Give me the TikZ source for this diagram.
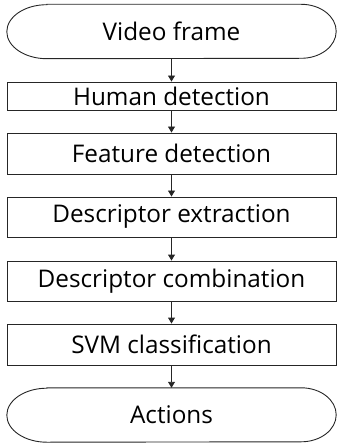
\documentclass[tikz,border=0pt]{standalone}
\usepackage{fontspec}
\setmainfont{Open Sans}
\usetikzlibrary{arrows.meta}
\tikzset{
  outline/.style={draw=black!85, line width=0.9pt},
  box/.style={outline, rectangle, minimum width=329pt, inner sep=0pt, font=\fontsize{24.3}{27}\selectfont},
  term/.style={rectangle, minimum width=329pt, minimum height=55pt, inner sep=0pt, font=\fontsize{24.3}{27}\selectfont},
  conn/.style={outline, -{Triangle[width=7pt,length=6pt]}}
}
\newcommand{\termoutline}[1]{%
  \draw[outline] ([xshift=40pt]#1.north west) -- ([xshift=-35pt]#1.north east)
    arc[start angle=90, end angle=-90, x radius=35pt, y radius=27pt]
    -- ([xshift=40pt]#1.south west)
    arc[start angle=270, end angle=90, x radius=40pt, y radius=27pt] -- cycle;}
\begin{document}
\begin{tikzpicture}[x=1pt,y=-1pt]
\useasboundingbox (0,0) rectangle (337,443);
\node[term, minimum height=54pt] (video) at (171.5,31.5) {Video frame};
\node[box, minimum height=28pt] (human) at (171.5,96) {Human detection};
\node[box, minimum height=41pt] (feature) at (171.5,153.5) {Feature detection};
\node[box, minimum height=40pt] (extract) at (171.5,217) {Descriptor extraction};
\node[box, minimum height=40pt] (combine) at (171.5,281) {Descriptor combination};
\node[box, minimum height=41pt] (svm) at (171.5,344.5) {SVM classification};
\node[term, minimum height=54pt] (actions) at (171.5,415) {Actions};
\termoutline{video}
\termoutline{actions}
\draw[conn] (video) -- (human);
\draw[conn] (human) -- (feature);
\draw[conn] (feature) -- (extract);
\draw[conn] (extract) -- (combine);
\draw[conn] (combine) -- (svm);
\draw[conn] (svm) -- (actions);
\end{tikzpicture}
\end{document}
